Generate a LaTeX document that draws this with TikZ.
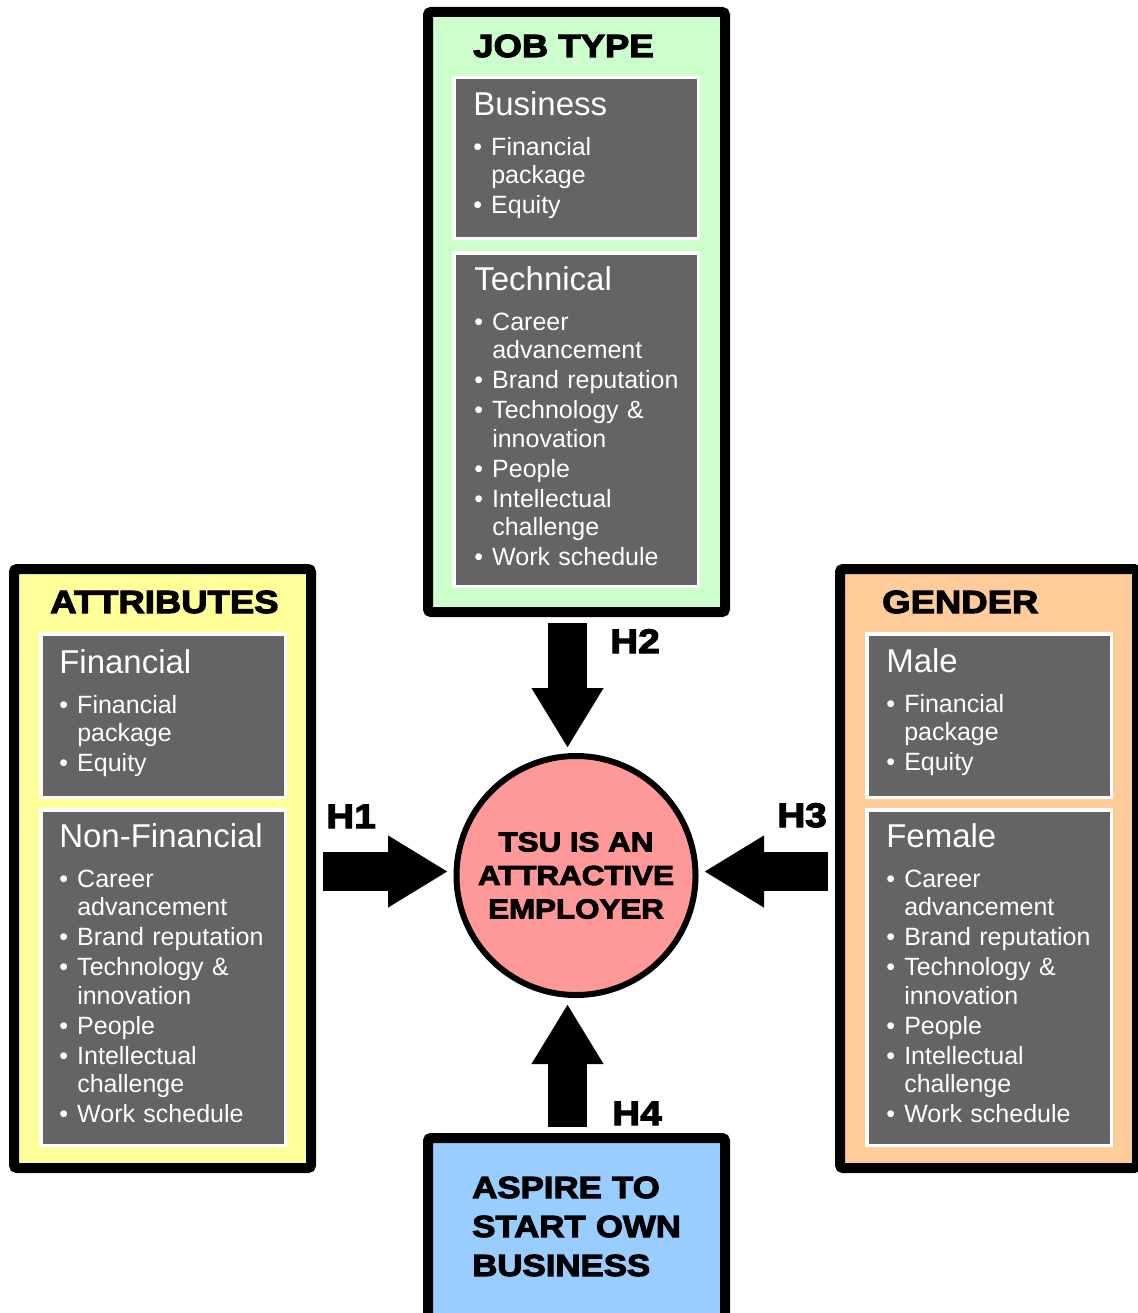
\documentclass[tikz,border=0pt]{standalone}
\usepackage{fontspec}
\setmainfont{Liberation Sans}
\newfontfamily\heavy{Liberation Sans}[FakeStretch=1.14,BoldFeatures={FakeBold=3.5}]
\usetikzlibrary{arrows.meta}
\definecolor{jobgreen}{HTML}{CCFFCC}
\definecolor{attryellow}{HTML}{FFFF99}
\definecolor{gendorange}{HTML}{FFCC99}
\definecolor{aspblue}{HTML}{99CCFF}
\definecolor{circpink}{HTML}{FF9999}
\definecolor{boxgray}{HTML}{646464}
\newcommand\boxhead[1]{\setlength{\parskip}{1.425pt}{\fontsize{24.75pt}{29pt}\selectfont #1\par}\vspace{7.35pt}}
\newcommand\bitem[1]{\par\hangindent=13.5pt\hangafter=1\noindent\makebox[13.5pt][l]{\textbullet}#1}
\begin{document}
\begin{tikzpicture}[x=0.75pt,y=-0.75pt,
  outerbox/.style={draw=black, line width=7.5pt, rounded corners=2.25pt, inner sep=0pt, minimum width=222.75pt},
  graybox/.style={draw=white, fill=boxgray, line width=2.625pt, inner sep=0pt, minimum width=183.375pt},
  bodytext/.style={anchor=base west, inner sep=0pt, text width=180pt, align=left, text=white, font=\fontsize{18.75pt}{21.225pt}\selectfont},
  titletext/.style={anchor=base west, inner sep=0pt, font=\heavy\bfseries\fontsize{24pt}{28pt}\selectfont},
  hlabel/.style={anchor=base west, inner sep=0pt, font=\heavy\bfseries\fontsize{25.5pt}{30pt}\selectfont},
  blockarrow/.style={draw=black, line width=29.25pt, -{Triangle[length=44.25pt,width=54pt,line width=0.1pt]}}]
\fill[white] (0,0) rectangle (1138,1313);
\useasboundingbox (0,0) rectangle (1138,1313);

% outer boxes
\node[outerbox, fill=jobgreen, minimum height=450pt] (job) at (576.5,312) {};
\node[outerbox, fill=attryellow, minimum height=449.25pt] (attr) at (162.5,868.5) {};
\node[outerbox, fill=gendorange, minimum height=449.25pt] (gend) at (988.5,868.5) {};
\node[outerbox, fill=aspblue, minimum height=135pt] (asp) at (576.5,1228) {};

% titles
\node[titletext] (jobt) at (473,57) {JOB TYPE};
\node[titletext] (attrt) at (50,613) {ATTRIBUTES};
\node[titletext] (gendt) at (882,613) {GENDER};
\node[anchor=base west, inner sep=0pt, text width=195pt, align=left,
      font=\heavy\bfseries\fontsize{22.9pt}{29.25pt}\selectfont] (aspt) at (472,1198)
      {ASPIRE TO\\START OWN\\BUSINESS};

% gray boxes
\node[graybox, minimum height=120.375pt] (biz) at (576,158) {};
\node[graybox, minimum height=250.125pt] (tech) at (576,419.5) {};
\node[graybox, minimum height=122.625pt] (fin) at (163,715.5) {};
\node[graybox, minimum height=251.625pt] (nonfin) at (163,977.5) {};
\node[graybox, minimum height=122.625pt] (male) at (989,715.5) {};
\node[graybox, minimum height=251.625pt] (female) at (989,977.5) {};

\node[bodytext] (bizt) at (473,115) {\boxhead{Business}
  \bitem{Financial\newline package}
  \bitem{Equity}};
\node[bodytext] (techt) at (474,290) {\boxhead{Technical}
  \bitem{Career\newline advancement}
  \bitem{Brand reputation}
  \bitem{Technology \&\newline innovation}
  \bitem{People}
  \bitem{Intellectual\newline challenge}
  \bitem{Work schedule}};
\node[bodytext] (fint) at (59,673) {\boxhead{Financial}
  \bitem{Financial\newline package}
  \bitem{Equity}};
\node[bodytext] (nonfint) at (59,847) {\boxhead{Non-Financial}
  \bitem{Career\newline advancement}
  \bitem{Brand reputation}
  \bitem{Technology \&\newline innovation}
  \bitem{People}
  \bitem{Intellectual\newline challenge}
  \bitem{Work schedule}};
\node[bodytext] (malet) at (886,672) {\boxhead{Male}
  \bitem{Financial\newline package}
  \bitem{Equity}};
\node[bodytext] (femalet) at (886,847) {\boxhead{Female}
  \bitem{Career\newline advancement}
  \bitem{Brand reputation}
  \bitem{Technology \&\newline innovation}
  \bitem{People}
  \bitem{Intellectual\newline challenge}
  \bitem{Work schedule}};

% centre circle
\node[circle, draw=black, line width=4.5pt, fill=circpink, minimum size=179.25pt, inner sep=0pt,
      align=center, font=\heavy\bfseries\fontsize{20.6pt}{25.1pt}\selectfont] (circ) at (576,875.5)
      {TSU IS AN\\ATTRACTIVE\\EMPLOYER};

% arrows
\coordinate (ax) at (567.5,0);
\coordinate (ay) at (0,871.5);
\draw[blockarrow, shorten <=4.5pt, shorten >=4.5pt] (job.south -| ax) -- (circ.north -| ax);
\draw[blockarrow, shorten <=4.5pt, shorten >=5.25pt] (asp.north -| ax) -- (circ.south -| ax);
\draw[blockarrow, shorten <=5.25pt, shorten >=4.875pt] (attr.east |- ay) -- (circ.west |- ay);
\draw[blockarrow, shorten <=5.25pt, shorten >=4.875pt] (gend.west |- ay) -- (circ.east |- ay);

% labels
\node[hlabel] (h2) at (610,653) {H2};
\node[hlabel] (h1) at (326,828) {H1};
\node[hlabel] (h3) at (777,827) {H3};
\node[hlabel] (h4) at (612,1125) {H4};
\end{tikzpicture}
\end{document}
